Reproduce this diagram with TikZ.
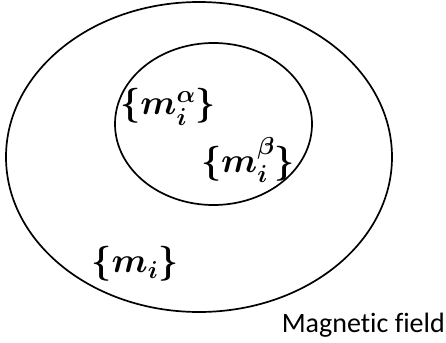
\RequirePackage{fix-cm}
\documentclass[tikz,border=0pt]{standalone}
\usepackage{amsmath,amssymb}
\usepackage{fontspec}
\setmainfont{Carlito}[Ligatures=NoCommon]
\usepackage{tikz}
\usetikzlibrary{calc}
\usetikzlibrary{shapes.geometric}

\begin{document}
\begin{tikzpicture}[x=1pt, y=-1pt]

\tikzstyle{region}=[ellipse, draw=black, line width=1.7pt, inner sep=0pt]
\tikzstyle{set_lbl}=[inner sep=0pt, font=\fontsize{35}{40}\selectfont\boldmath]

\useasboundingbox (0,0) rectangle (446,342);

\coordinate (O) at (199, 157);
\coordinate (I) at (213.5, 124);

\path
($(O)$) node[region, minimum width=386pt, minimum height=310pt](outer) {}
($(I)$) node[region, minimum width=197pt, minimum height=162pt](inner) {}
(168, 107) node[set_lbl](alpha) {$\{m_i^{\alpha}\}$}
(248, 160) node[set_lbl](beta) {$\{m_i^{\beta}\}$}
(135, 264) node[set_lbl](all) {$\{m_i\}$}
(445, 325) node[anchor=east, inner sep=0pt, font=\fontsize{28}{32}\selectfont](field) {Magnetic field};

\end{tikzpicture}
\end{document}
